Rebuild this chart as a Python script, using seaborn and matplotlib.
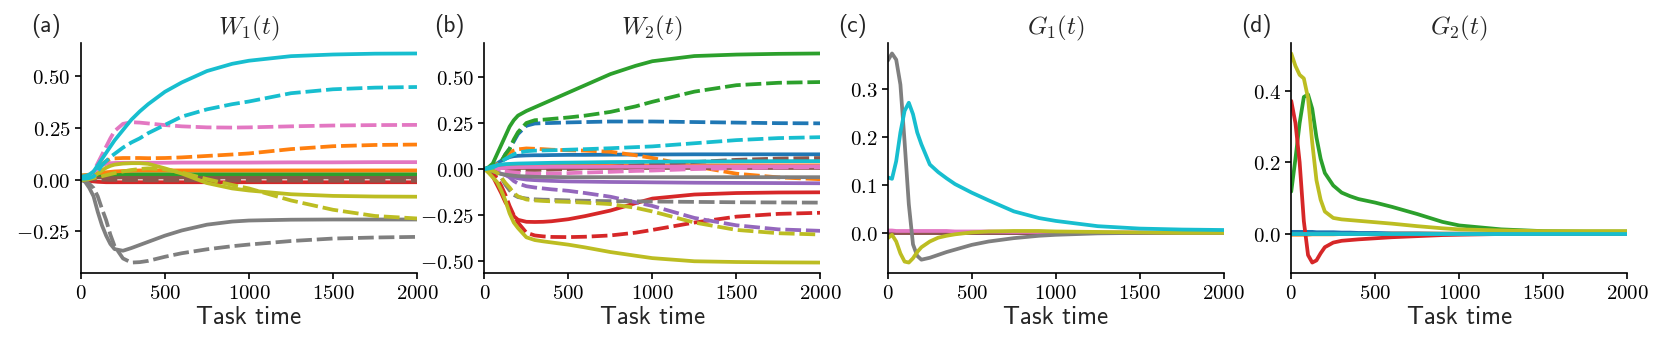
import matplotlib
matplotlib.use("Agg")
import matplotlib.pyplot as plt
import seaborn as sns
from matplotlib.ticker import FuncFormatter

# time grid shared by every curve
t_grid = [0, 25, 50, 75, 100, 125, 150, 175, 200, 250, 300, 350, 400, 500,
          600, 750, 900, 1000, 1250, 1500, 1750, 2000]

# ---------- panel (a): W1(t) ----------
a_cyan = [0.015, 0.018, 0.025, 0.04, 0.07, 0.1, 0.13, 0.16, 0.19, 0.24, 0.29, 0.33, 0.365, 0.425,
          0.47, 0.525, 0.56, 0.575, 0.597, 0.605, 0.609, 0.61]
a_cyan_d = [0.005, 0.005, 0.008, 0.015, 0.04, 0.07, 0.09, 0.11, 0.125, 0.155, 0.18, 0.2, 0.225, 0.265,
            0.305, 0.34, 0.365, 0.378, 0.418, 0.437, 0.445, 0.448]
a_pink = [0.01, 0.012, 0.02, 0.035, 0.055, 0.07, 0.077, 0.08, 0.081, 0.082, 0.082, 0.082, 0.082, 0.082,
          0.083, 0.083, 0.083, 0.083, 0.084, 0.084, 0.085, 0.085]
a_pink_d = [0.01, 0.012, 0.02, 0.04, 0.08, 0.12, 0.16, 0.2, 0.235, 0.27, 0.278, 0.276, 0.272, 0.264,
            0.258, 0.253, 0.252, 0.253, 0.258, 0.262, 0.264, 0.265]
a_orange = [0.02, 0.022, 0.025, 0.028, 0.031, 0.034, 0.036, 0.038, 0.04, 0.042, 0.044, 0.045, 0.045,
            0.045, 0.045, 0.045, 0.045, 0.045, 0.045, 0.045, 0.045, 0.045]
a_orange_d = [0.005, 0.006, 0.01, 0.025, 0.05, 0.075, 0.09, 0.1, 0.103, 0.105, 0.105, 0.105, 0.104,
              0.105, 0.108, 0.115, 0.122, 0.127, 0.148, 0.162, 0.168, 0.17]
a_green = [0.02, 0.021, 0.022, 0.023, 0.024, 0.025, 0.025, 0.026, 0.026, 0.027, 0.027, 0.027, 0.027,
           0.027, 0.027, 0.027, 0.027, 0.027, 0.027, 0.027, 0.027, 0.027]
a_brown = [0.01, 0.01, 0.01, 0.01, 0.011, 0.011, 0.011, 0.011, 0.011, 0.011, 0.011, 0.011, 0.011,
           0.011, 0.011, 0.011, 0.011, 0.011, 0.011, 0.011, 0.011, 0.011]
a_brown_d = [0.005, 0.004, 0.003, 0.002, 0.001, 0.0, 0.0, -0.001, -0.001, -0.002, -0.002, -0.002,
             -0.003, -0.003, -0.003, -0.003, -0.004, -0.004, -0.004, -0.005, -0.005, -0.005]
a_red = [0.0, -0.003, -0.006, -0.008, -0.01, -0.011, -0.012, -0.012, -0.012, -0.012, -0.012, -0.012,
         -0.012, -0.012, -0.012, -0.012, -0.012, -0.012, -0.012, -0.012, -0.012, -0.012]
a_olive = [0.0, 0.002, 0.008, 0.015, 0.03, 0.045, 0.058, 0.067, 0.073, 0.078, 0.08, 0.08, 0.077,
           0.055, 0.03, -0.016, -0.042, -0.052, -0.07, -0.078, -0.081, -0.082]
a_olive_d = [0.0, 0.0, 0.003, 0.008, 0.013, 0.017, 0.022, 0.027, 0.032, 0.04, 0.047, 0.052, 0.055,
             0.05, 0.035, 0.003, -0.025, -0.042, -0.1, -0.145, -0.175, -0.187]
a_gray = [0.0, -0.01, -0.04, -0.08, -0.155, -0.22, -0.27, -0.31, -0.335, -0.343, -0.33, -0.315,
          -0.3, -0.27, -0.245, -0.217, -0.202, -0.197, -0.193, -0.192, -0.192, -0.192]
a_gray_d = [0.0, -0.005, -0.02, -0.04, -0.08, -0.14, -0.195, -0.265, -0.32, -0.38, -0.4, -0.398,
            -0.392, -0.372, -0.355, -0.336, -0.321, -0.313, -0.296, -0.284, -0.279, -0.276]

# ---------- panel (b): W2(t) ----------
b_green = [0.0, 0.01, 0.03, 0.08, 0.13, 0.18, 0.23, 0.265, 0.29, 0.315, 0.335, 0.355, 0.375, 0.415,
           0.455, 0.515, 0.56, 0.585, 0.613, 0.621, 0.625, 0.627]
b_green_d = [0.0, 0.003, 0.008, 0.015, 0.04, 0.08, 0.11, 0.16, 0.2, 0.25, 0.265, 0.268, 0.272, 0.28,
             0.29, 0.31, 0.34, 0.365, 0.42, 0.455, 0.468, 0.472]
b_blue = [0.0, 0.005, 0.015, 0.03, 0.045, 0.055, 0.065, 0.07, 0.072, 0.074, 0.075, 0.075, 0.076,
          0.077, 0.077, 0.078, 0.079, 0.079, 0.08, 0.08, 0.08, 0.08]
b_blue_d = [0.0, 0.003, 0.008, 0.015, 0.04, 0.08, 0.11, 0.15, 0.19, 0.235, 0.247, 0.249, 0.25, 0.253,
            0.255, 0.258, 0.258, 0.258, 0.255, 0.252, 0.249, 0.248]
b_cyan = [0.0, 0.008, 0.015, 0.02, 0.025, 0.027, 0.028, 0.029, 0.03, 0.031, 0.032, 0.033, 0.034,
          0.035, 0.036, 0.038, 0.039, 0.04, 0.041, 0.042, 0.043, 0.043]
b_cyan_d = [0.0, 0.003, 0.008, 0.02, 0.04, 0.055, 0.068, 0.08, 0.088, 0.097, 0.1, 0.101, 0.102,
            0.105, 0.108, 0.113, 0.119, 0.123, 0.14, 0.157, 0.168, 0.173]
b_orange = [0.0, 0.003, 0.006, 0.009, 0.012, 0.014, 0.016, 0.017, 0.018, 0.019, 0.02, 0.02, 0.02,
            0.02, 0.02, 0.02, 0.02, 0.02, 0.02, 0.02, 0.02, 0.02]
b_orange_d = [0.0, 0.003, 0.01, 0.025, 0.045, 0.07, 0.09, 0.1, 0.107, 0.112, 0.11, 0.108, 0.105,
              0.102, 0.1, 0.094, 0.075, 0.06, 0.015, -0.025, -0.045, -0.055]
b_brown = [0.0, 0.002, 0.004, 0.005, 0.006, 0.006, 0.006, 0.006, 0.006, 0.006, 0.006, 0.006, 0.006,
           0.006, 0.006, 0.006, 0.006, 0.006, 0.006, 0.006, 0.006, 0.006]
b_brown_d = [0.0, -0.001, -0.002, -0.003, -0.004, -0.005, -0.005, -0.005, -0.005, -0.005, -0.005,
             -0.004, -0.003, 0.0, 0.005, 0.012, 0.02, 0.025, 0.038, 0.05, 0.057, 0.06]
b_pink = [0.0, 0.001, 0.002, 0.003, 0.005, 0.006, 0.008, 0.009, 0.01, 0.011, 0.011, 0.011, 0.012,
          0.012, 0.012, 0.013, 0.013, 0.013, 0.014, 0.014, 0.015, 0.015]
b_pink_d = [0.0, -0.002, -0.004, -0.007, -0.01, -0.013, -0.016, -0.018, -0.02, -0.023, -0.025,
            -0.025, -0.024, -0.022, -0.019, -0.015, -0.01, -0.008, 0.0, 0.005, 0.008, 0.01]
b_gray = [0.0, -0.005, -0.012, -0.02, -0.027, -0.03, -0.033, -0.036, -0.038, -0.04, -0.042, -0.043,
          -0.043, -0.044, -0.044, -0.044, -0.044, -0.044, -0.044, -0.044, -0.044, -0.044]
b_gray_d = [0.0, -0.003, -0.01, -0.02, -0.045, -0.085, -0.115, -0.14, -0.152, -0.16, -0.164, -0.166,
            -0.167, -0.17, -0.172, -0.174, -0.175, -0.176, -0.178, -0.18, -0.181, -0.182]
b_purple = [0.0, -0.005, -0.01, -0.017, -0.025, -0.033, -0.04, -0.045, -0.05, -0.057, -0.06, -0.062,
            -0.064, -0.067, -0.068, -0.07, -0.071, -0.072, -0.074, -0.075, -0.076, -0.077]
b_purple_d = [0.0, -0.002, -0.005, -0.01, -0.02, -0.03, -0.045, -0.065, -0.078, -0.093, -0.1,
              -0.105, -0.11, -0.118, -0.13, -0.15, -0.18, -0.2, -0.265, -0.305, -0.327, -0.335]
b_red = [0.0, -0.01, -0.04, -0.085, -0.13, -0.18, -0.215, -0.255, -0.275, -0.286, -0.287, -0.286,
         -0.283, -0.272, -0.255, -0.225, -0.185, -0.16, -0.138, -0.13, -0.127, -0.126]
b_red_d = [0.0, -0.005, -0.02, -0.05, -0.09, -0.14, -0.2, -0.25, -0.29, -0.345, -0.36, -0.365,
           -0.368, -0.369, -0.367, -0.36, -0.345, -0.33, -0.29, -0.258, -0.243, -0.237]
b_olive = [0.0, -0.02, -0.045, -0.07, -0.115, -0.17, -0.24, -0.29, -0.32, -0.37, -0.385, -0.392,
           -0.398, -0.41, -0.425, -0.45, -0.47, -0.483, -0.5, -0.504, -0.506, -0.507]
b_olive_d = [0.0, -0.003, -0.01, -0.02, -0.045, -0.075, -0.1, -0.13, -0.148, -0.165, -0.17, -0.173,
             -0.175, -0.178, -0.182, -0.19, -0.21, -0.23, -0.29, -0.33, -0.348, -0.355]

# ---------- panel (c): G1(t) ----------
c_gray = [0.36, 0.375, 0.362, 0.31, 0.19, 0.06, -0.024, -0.048, -0.056, -0.052, -0.046, -0.04,
          -0.035, -0.025, -0.018, -0.011, -0.006, -0.004, -0.001, 0.0, 0.0, 0.0]
c_cyan = [0.116, 0.113, 0.15, 0.21, 0.255, 0.272, 0.248, 0.21, 0.185, 0.143, 0.127, 0.114, 0.102,
          0.084, 0.068, 0.045, 0.031, 0.025, 0.014, 0.009, 0.007, 0.006]
c_olive = [-0.011, -0.004, -0.018, -0.043, -0.06, -0.062, -0.053, -0.04, -0.03, -0.018, -0.01,
           -0.006, -0.003, 0.001, 0.003, 0.004, 0.004, 0.003, 0.002, 0.001, 0.0, 0.0]
c_pink = [0.005, 0.005, 0.004, 0.004, 0.004, 0.004, 0.004, 0.004, 0.004, 0.004, 0.004, 0.004, 0.003,
          0.003, 0.003, 0.002, 0.002, 0.002, 0.001, 0.001, 0.0, 0.0]
c_flat = [0.0, 0.0, 0.0, 0.0, 0.0, 0.0, 0.0, 0.0, 0.0, 0.0, 0.0, 0.0, 0.0, 0.0, 0.0, 0.0, 0.0, 0.0,
          0.0, 0.0, 0.0, 0.0]

# ---------- panel (d): G2(t) ----------
d_olive = [0.505, 0.47, 0.445, 0.435, 0.38, 0.255, 0.15, 0.095, 0.062, 0.044, 0.04, 0.038, 0.036,
           0.032, 0.028, 0.021, 0.015, 0.012, 0.009, 0.007, 0.007, 0.007]
d_green = [0.118, 0.21, 0.31, 0.383, 0.39, 0.35, 0.27, 0.21, 0.17, 0.135, 0.115, 0.105, 0.097,
           0.087, 0.075, 0.055, 0.033, 0.023, 0.012, 0.007, 0.006, 0.006]
d_red = [0.372, 0.31, 0.2, 0.035, -0.06, -0.081, -0.075, -0.055, -0.038, -0.025, -0.02, -0.018,
         -0.016, -0.013, -0.01, -0.007, -0.004, -0.003, -0.001, 0.0, 0.0, 0.0]
d_blue = [0.005, 0.005, 0.005, 0.005, 0.005, 0.005, 0.004, 0.004, 0.004, 0.004, 0.003, 0.003, 0.002,
          0.002, 0.001, 0.001, 0.0, 0.0, 0.0, 0.0, 0.0, 0.0]
d_orange = [-0.003, -0.003, -0.003, -0.003, -0.003, -0.002, -0.002, -0.002, -0.002, -0.002, -0.001,
            -0.001, -0.001, -0.001, 0.0, 0.0, 0.0, 0.0, 0.0, 0.0, 0.0, 0.0]
d_flat = [0.0, 0.0, 0.0, 0.0, 0.0, 0.0, 0.0, 0.0, 0.0, 0.0, 0.0, 0.0, 0.0, 0.0, 0.0, 0.0, 0.0, 0.0,
          0.0, 0.0, 0.0, 0.0]

titles = [r"$W_1(t)$", r"$W_2(t)$", r"$G_1(t)$", r"$G_2(t)$"]
panel_tags = ["(a)", "(b)", "(c)", "(d)"]
yticks = [[-0.25, 0.0, 0.25, 0.5],
          [-0.5, -0.25, 0.0, 0.25, 0.5],
          [0.0, 0.1, 0.2, 0.3],
          [0.0, 0.2, 0.4]]
ydigits = [2, 2, 1, 1]
xticks = [0, 500, 1000, 1500, 2000]

# curves per panel: (values, colour, dashed?)
panel_a = [(a_red, "tab:red", False), (a_brown, "tab:brown", False), (a_brown_d, "tab:brown", True),
           (a_green, "tab:green", False), (a_orange, "tab:orange", False), (a_pink, "tab:pink", False),
           (a_orange_d, "tab:orange", True), (a_pink_d, "tab:pink", True), (a_gray, "tab:gray", False),
           (a_gray_d, "tab:gray", True), (a_olive, "tab:olive", False), (a_olive_d, "tab:olive", True),
           (a_cyan, "tab:cyan", False), (a_cyan_d, "tab:cyan", True)]
panel_b = [(b_blue, "tab:blue", False), (b_blue_d, "tab:blue", True), (b_orange, "tab:orange", False),
           (b_orange_d, "tab:orange", True), (b_green, "tab:green", False), (b_green_d, "tab:green", True),
           (b_red, "tab:red", False), (b_red_d, "tab:red", True), (b_purple, "tab:purple", False),
           (b_purple_d, "tab:purple", True), (b_brown, "tab:brown", False), (b_brown_d, "tab:brown", True),
           (b_pink, "tab:pink", False), (b_pink_d, "tab:pink", True), (b_gray, "tab:gray", False),
           (b_gray_d, "tab:gray", True), (b_olive, "tab:olive", False), (b_olive_d, "tab:olive", True),
           (b_cyan, "tab:cyan", False), (b_cyan_d, "tab:cyan", True)]
panel_c = [(c_flat, "tab:blue", False), (c_flat, "tab:orange", False), (c_flat, "tab:green", False),
           (c_flat, "tab:red", False), (c_flat, "tab:purple", False), (c_flat, "tab:brown", False),
           (c_pink, "tab:pink", False), (c_gray, "tab:gray", False), (c_olive, "tab:olive", False),
           (c_cyan, "tab:cyan", False)]
panel_d = [(d_blue, "tab:blue", False), (d_orange, "tab:orange", False), (d_green, "tab:green", False),
           (d_red, "tab:red", False), (d_flat, "tab:purple", False), (d_flat, "tab:brown", False),
           (d_flat, "tab:pink", False), (d_flat, "tab:gray", False), (d_olive, "tab:olive", False),
           (d_flat, "tab:cyan", False)]

sns.set_theme(style="ticks")
plt.rcParams["mathtext.fontset"] = "cm"
plt.rcParams["axes.linewidth"] = 1.2
plt.rcParams["xtick.major.width"] = 1.2
plt.rcParams["ytick.major.width"] = 1.2
plt.rcParams["xtick.major.size"] = 4
plt.rcParams["ytick.major.size"] = 4
plt.rcParams["axes.edgecolor"] = "black"

fig, axes = plt.subplots(1, 4, figsize=(16.62, 3.48), dpi=100)
fig.subplots_adjust(left=0.0487, right=0.9791, bottom=0.2155, top=0.8764, wspace=0.2006)

for i, (ax, curves) in enumerate(zip(axes, [panel_a, panel_b, panel_c, panel_d])):
    for vals, col, dashed in curves:
        if dashed:
            sns.lineplot(x=t_grid, y=vals, ax=ax, color=col, linewidth=2.7,
                         dashes=False, linestyle=(0, (4.2, 1.3)))
        else:
            sns.lineplot(x=t_grid, y=vals, ax=ax, color=col, linewidth=2.7)
    ax.set_xlim(0, 2000)
    ax.set_xticks(xticks)
    ax.set_yticks(yticks[i])
    nd = ydigits[i]
    ax.yaxis.set_major_formatter(FuncFormatter(lambda v, p, nd=nd: f"${v:.{nd}f}$"))
    ax.xaxis.set_major_formatter(FuncFormatter(lambda v, p: f"${v:.0f}$"))
    ax.tick_params(labelsize=15, colors="black")
    ax.set_xlabel("Task time", fontsize=18, family="cmss10", labelpad=2)
    ax.set_ylabel("")
    ax.set_title(titles[i], fontsize=18, pad=5)
    ax.text(-0.149, 1.074, panel_tags[i], transform=ax.transAxes, fontsize=17,
            family="cmss10", ha="left", va="center")
    sns.despine(ax=ax)

fig.savefig("out.png", dpi=100)
